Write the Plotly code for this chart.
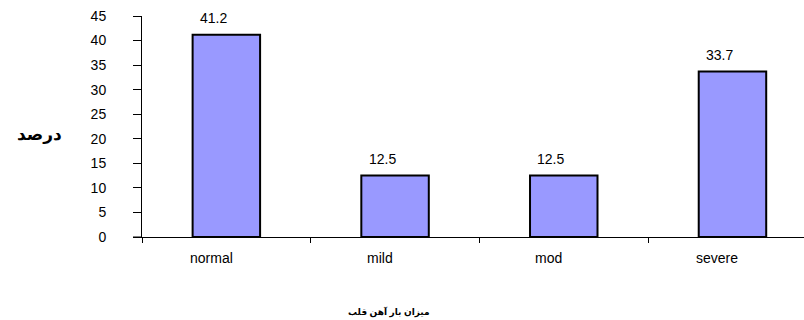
import plotly.graph_objects as go

categories = ["normal", "mild", "mod", "severe"]
values = [41.2, 12.5, 12.5, 33.7]
y_ticks = [0, 5, 10, 15, 20, 25, 30, 35, 40, 45]
y_title = "درصد"
x_title = "میزان بار آهن قلب"

FONT = "Liberation Sans, Arial, DejaVu Sans, sans-serif"

fig = go.Figure()
fig.add_trace(go.Bar(
    x=categories, y=values, width=0.4,
    marker=dict(color="#9999FF", line=dict(color="#000000", width=2)),
    showlegend=False, hoverinfo="skip",
))

# value labels
for c, v in zip(categories, values):
    fig.add_annotation(x=c, y=v, text=f"{v:.1f}", showarrow=False,
                       xref="x", yref="y", yanchor="middle", xanchor="center",
                       yshift=17, xshift=-13,
                       font=dict(family=FONT, size=14, color="#000"))

# category labels (slightly left of centre, as in the original)
for c in categories:
    fig.add_annotation(x=c, y=0, xref="x", yref="paper", text=c, showarrow=False,
                       xanchor="center", yanchor="middle", yshift=-21, xshift=-15,
                       font=dict(family=FONT, size=14, color="#000"))

fig.add_annotation(xref="paper", yref="paper", x=(39 - 142) / 662, y=(237 - 134) / 221,
                   xanchor="center", yanchor="middle",
                   text="<b>" + y_title + "</b>", showarrow=False,
                   font=dict(family=FONT, size=17, color="#000"))
fig.add_annotation(xref="paper", yref="paper", x=(389 - 142) / 662, y=(237 - 312) / 221,
                   xanchor="center", yanchor="middle",
                   text="<b>" + x_title + "</b>", showarrow=False,
                   font=dict(family=FONT, size=9, color="#000"))

fig.add_shape(type="line", xref="paper", yref="y", x0=-9 / 662, x1=0, y0=0, y1=0,
              line=dict(color="#000", width=1))

fig.update_layout(
    width=804, height=320,
    margin=dict(l=142, r=0, t=16, b=83),
    paper_bgcolor="white", plot_bgcolor="white",
    font=dict(family=FONT, size=14, color="#000"),
    xaxis=dict(
        range=[-0.5, 3.424], type="category", tickson="boundaries",
        ticks="outside", ticklen=5, tickcolor="#000", tickwidth=1,
        showline=True, linecolor="#000", linewidth=1,
        showgrid=False, zeroline=False, showticklabels=False,
    ),
    yaxis=dict(
        range=[0, 45], tickmode="array", tickvals=y_ticks,
        ticks="outside", ticklen=8, tickcolor="#000", tickwidth=1,
        showline=True, linecolor="#000", linewidth=1,
        showgrid=False, zeroline=False, ticklabelstandoff=24,
        tickfont=dict(family=FONT, size=14),
    ),
)

fig.write_html("out.html")
